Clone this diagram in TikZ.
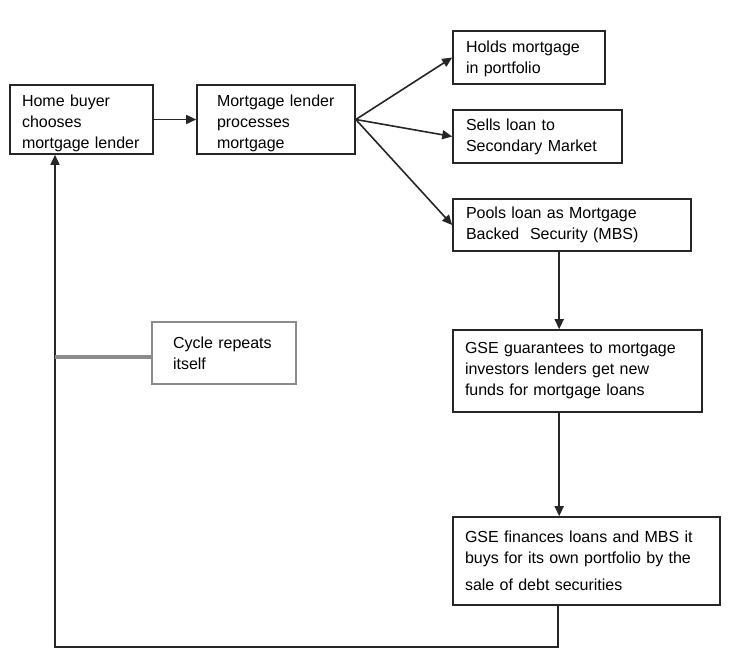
\documentclass[tikz,border=0pt]{standalone}
\usepackage{fontspec}
\setmainfont{Liberation Sans}
\usetikzlibrary{arrows.meta,calc}
\newcommand\firstup{\rule{0pt}{19.5pt}}
\begin{document}
\begin{tikzpicture}[x=1pt,y=-1pt,
  every node/.style={font=\fontsize{16}{21}\selectfont},
  box/.style={draw=black!85,line width=1.6pt,rectangle,align=left,inner ysep=0pt,
    inner xsep=#1},
  box/.default=12pt,
  graybox/.style={draw=black!45,line width=2.6pt,rectangle,align=left,inner ysep=0pt,inner xsep=21pt},
  conn/.style={draw=black!85,line width=1.6pt},
  arr/.style={conn,-{Triangle[length=10pt,width=9pt]}},
  grayconn/.style={draw=black!45,line width=4pt}
]
\useasboundingbox (0,0) rectangle (754,650);

\node[box=12pt,text width=119pt,minimum height=69pt] (home) at (81.5,119.5)
  {\firstup Home buyer\\chooses\\mortgage lender};
\node[box=20pt,text width=118pt,minimum height=69pt] (lender) at (276,119.5)
  {\firstup Mortgage lender\\processes\\mortgage};
\node[box=13pt,text width=126pt,minimum height=53pt] (holds) at (529,57.5)
  {\rule{0pt}{15pt}Holds mortgage\\in portfolio};
\node[box=13pt,text width=143pt,minimum height=53pt] (sells) at (537.5,136.5)
  {Sells loan to\\Secondary Market};
\node[box=13pt,text width=212pt,minimum height=52pt] (pools) at (572,225)
  {Pools loan as Mortgage\\Backed\ \ Security (MBS)};
\node[box=12pt,text width=225pt,minimum height=82pt] (gse1) at (577.5,371)
  {GSE guarantees to mortgage\\investors lenders get new\\funds for mortgage loans};
\node[box=12pt,text width=243pt,minimum height=88pt] (gse2) at (586.5,561)
  {GSE finances loans and MBS it\\buys for its own portfolio by the\\[6pt]sale of debt securities};
\node[graybox,text width=102pt,minimum height=62pt] (cycle) at (224,353)
  {Cycle repeats\\itself\\[-4pt]};

\coordinate (bl) at (55,647);

\draw[arr] (home.east) -- (lender.east -| lender.west);
\draw[arr] (lender.east) -- (holds.west);
\draw[arr] (lender.east) -- (sells.west);
\draw[arr] (lender.east) -- (pools.west);
\draw[arr] ([xshift=107pt]pools.south west) -- ([xshift=107pt]gse1.north west);
\draw[arr] ([xshift=107pt]gse1.south west) -- ([xshift=107pt]gse2.north west);
\draw[arr] ([xshift=106pt]gse2.south west) |- (bl) -- (home.south -| bl);
\draw[grayconn] ([yshift=-4pt]cycle.west -| bl) -- ([yshift=-4pt]cycle.west);
\end{tikzpicture}
\end{document}
